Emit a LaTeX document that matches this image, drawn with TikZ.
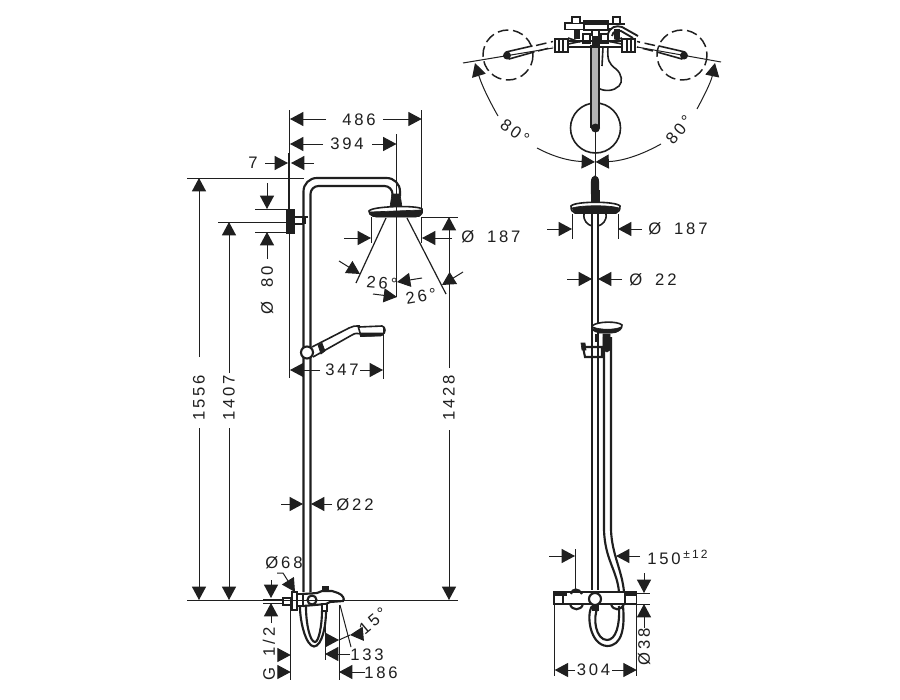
\documentclass[tikz,border=0pt]{standalone}
\usepackage{fontspec}
\setmainfont{Liberation Sans}[LetterSpace=17]
\usetikzlibrary{arrows.meta}
\tikzset{
  x=0.75pt,y=-0.75pt,
  ink/.style={color=black!88},
  thin line/.style={ink,line width=0.75pt},
  pipe/.style={ink,line width=1.6pt},
  thick part/.style={ink,line width=1.2pt},
  tip/.style={thin line,-{Triangle[length=10pt,width=10.5pt]}},
  lbl/.style={ink,font=\fontsize{12.5pt}{14pt}\selectfont,inner sep=0pt},
  blk/.style={fill=black!88,draw=black!88,line width=0.5pt},
  dash part/.style={ink,line width=1.1pt,dash pattern=on 8pt off 3.5pt}
}
\begin{document}
\begin{tikzpicture}
\useasboundingbox[fill=white] (0,0) rectangle (900,700);
% ---- side view: pipes
\draw[pipe,rounded corners=10pt] (303.5,592) -- (303.5,178) -- (400,178) -- (400,196);
\draw[pipe,rounded corners=6pt] (310.5,592) -- (310.5,186) -- (392.5,186) -- (392.5,196);
\draw[blk] (392,194) -- (400,194) -- (402,207) -- (390,207) -- cycle;
\draw[thick part,fill=white] (369,211) .. controls (372,206) and (418,205) .. (422,209) .. controls (423,212) and (422,214) .. (419,216) -- (373,216) .. controls (370,215) and (369,213) .. (369,211) -- cycle;
\draw[blk] (370,212) -- (421,210) .. controls (422,214) and (420,216) .. (416,217) -- (376,217) .. controls (372,216) and (370,214) .. (370,212) -- cycle;
% wall bracket
\draw[blk] (286,209) rectangle (294.5,233);
\draw[thick part] (295,217) -- (308,217) (295,224) -- (304,224);
\fill[black!88] (302,217) rectangle (306,224);
% hand shower side
\draw[pipe,fill=white] (307,352.5) circle[radius=6];
\draw[thick part] (312,347) -- (349,328) .. controls (352,326) and (355,326) .. (360,326);
\draw[thick part] (313,357) -- (352,335) .. controls (355,333) and (358,333) .. (361,334);
\draw[blk] (318,345) -- (322,343) -- (325,351) -- (321,354) -- cycle;
\draw[thick part] (359,327) -- (382,326) .. controls (386,327) and (386,333) .. (382,335) -- (360,336);
\draw[blk] (361,333) -- (384,333) -- (381,336) -- (361,336.5) -- cycle;
\draw[thick part] (358,326) -- (361,336);
% side mixer
\draw[thick part,fill=white] (283,598) rectangle (291,605);
\draw[pipe,fill=white] (292,592) rectangle (297,610);
\draw[thick part] (297,594) -- (303,594) -- (303,606) -- (297,606);
\draw[pipe] (303,594) -- (317,593) -- (322,591) -- (332,591) -- (338,593) .. controls (343,595) and (345,599) .. (343,601) -- (330,602) -- (326,604) -- (303,606);
\draw[pipe,fill=white] (312,600) circle[radius=4.5];
\draw[blk] (322,586) rectangle (328,591);
\draw[thick part,fill=white] (322,604) rectangle (327,611);
\draw[pipe] (300,607) .. controls (300,622) and (306,646) .. (314,646.5) .. controls (322,646) and (326,626) .. (326,611);
\draw[pipe] (306,607) .. controls (306,624) and (310,642) .. (315,642) .. controls (319,642) and (322,624) .. (322,611);
% ---- side view dimension lines
\draw[thin line] (289.7,110) -- (289.7,378);
\draw[thin line] (288,153) -- (288,209);
\draw[thin line] (421.7,110) -- (421.7,212);
\draw[thin line] (396.5,134) -- (396.5,297);
\draw[thin line] (187,178) -- (304,178);
\draw[thin line] (255,209) -- (286,209) (255,232) -- (286,232) (218,222) -- (286,222);
\draw[thin line] (422,217) -- (458,217);
\draw[thin line] (187,600) -- (458,600);
\draw[thin line] (290.7,600) -- (290.7,680);
\draw[tip] (326,119) -- (290,119); \draw[tip] (383,119) -- (421.7,119);
\node[lbl] (t486) at (359,120) {486};
\draw[tip] (323,144) -- (290,144); \draw[tip] (372,144) -- (396.5,144);
\node[lbl] (t394) at (347,144) {394};
\node[lbl] (t7) at (253,163) {7};
\draw[tip] (265,163) -- (288,163); \draw[tip] (314,163) -- (291,163);
\draw[tip] (267,183) -- (267,209); \draw[tip] (267,259) -- (267,232);
\node[lbl,rotate=90] (t80) at (267,290) {Ø\hspace{5pt} 80};
\draw[tip] (199,357) -- (199,178); \draw[tip] (199,428) -- (199,600);
\node[lbl,rotate=90] (t1556) at (199,398) {1556};
\draw[tip] (229,373) -- (229,222); \draw[tip] (229,428) -- (229,600);
\node[lbl,rotate=90] (t1407) at (229,398) {1407};
\draw[tip] (449,368) -- (449,217); \draw[tip] (449,430) -- (449,600);
\node[lbl,rotate=90] (t1428) at (449,398) {1428};
% shower head cones
\draw[thin line] (371,217) -- (371,243) (421.7,217) -- (421.7,243);
\draw[thin line,line width=0.9pt] (386,218) -- (356,283) (407,218) -- (446,294);
\draw[tip] (344,238) -- (371,238); \draw[tip] (452,238) -- (422,238);
\node[lbl,anchor=west] (t187a) at (461,237) {Ø\hspace{4pt} 187};
\draw[tip] (339,261) -- (360,274); \draw[tip] (463,272) -- (442,285);
\draw[tip] (422,278) -- (397,282); \draw[tip] (373,294) -- (397,297);
\node[lbl,rotate=-5] (t26a) at (382,283) {26°};
\node[lbl,rotate=10] (t26b) at (421,296) {26°};
% 347
\draw[thin line] (383,328) -- (383,379);
\draw[tip] (320,370) -- (290,370); \draw[tip] (360,370) -- (383,370);
\node[lbl] (t347) at (342,370) {347};
% 22
\draw[tip] (281,504) -- (303,504); \draw[tip] (332,504) -- (311,504);
\node[lbl] (t22a) at (355,505) {Ø22};
% Ø68
\node[lbl] (t68) at (284,563) {Ø68};
\draw[tip] (277,573) -- (283,573) -- (295,592);
% G 1/2
\draw[thin line] (263,599) -- (283,599) (263,603) -- (283,603);
\draw[tip] (271,580) -- (271,598); \draw[tip] (271,623) -- (271,603);
\node[lbl,rotate=90] (tg) at (269,654) {G\hspace{3pt} 1/2};
\draw[tip] (278,655) -- (290.7,655); \draw[tip] (278,672) -- (290.7,672);
% 133 / 186 / 15
\draw[thin line] (325,611) -- (325,660);
\draw[thin line] (339,605) -- (339,680);
\draw[thin line] (340,605) -- (351,647);
\draw[tip] (327,640) -- (339,640);
\draw[tip] (361,634) -- (350,635);
\draw[thin line] (339,640) -- (350,635);
\node[lbl,rotate=40] (t15) at (373,621) {15°};
\draw[tip] (350,654) -- (325,654);
\node[lbl] (t133) at (367,655) {133};
\draw[tip] (365,672) -- (339,672);
\node[lbl] (t186) at (381,673) {186};
% ---- top view
\draw[thick part] (595.5,128) circle[radius=25];
\draw[dash part] (508,55) circle[radius=25];
\draw[dash part] (682,55) circle[radius=25];
\draw[thick part] (608,47) .. controls (607,60) and (609,64) .. (616,69) .. controls (622,74) and (623,82) .. (619,86) .. controls (614,91) and (605,92) .. (598,88);
\draw[thick part] (603,47) -- (602,66);
\fill[black!30] (591,45) rectangle (599,128);
\draw[thick part] (591,45) -- (591,128) (599,45) -- (599,128);
\fill[black!88] (595.5,128) circle[radius=4.5];
\draw[thin line] (595.5,128) -- (595.5,178);
% rods
\draw[thick part,line cap=round] (506,52) -- (532,46) (509,59) -- (534,52);
\fill[black!88] (507,55.5) circle[radius=4];
\draw[dash part] (536,45.5) -- (553,41.5) (538,51) -- (553,47);
\draw[thick part,line cap=round] (685,52) -- (659,46) (682,59) -- (657,52);
\fill[black!88] (684,55.5) circle[radius=4];
\draw[dash part] (655,45.5) -- (637,41.5) (653,51) -- (637,47);
\draw[thin line] (463,63) -- (553,48);
\draw[thin line] (721,62) -- (637,47);
% mixer top
\draw[pipe] (555,39) rectangle (568,52);
\draw[pipe] (622,39) rectangle (635,52);
\draw[thick part] (568,41) -- (622,41) (568,47) -- (622,47);
\draw[thick part] (568,38) -- (580,42) (568,44) -- (583,41) (622,38) -- (610,42) (622,44) -- (607,41);
\draw[thick part] (559,38) -- (559,53) (563,38) -- (563,53) (627,38) -- (627,53) (631,38) -- (631,53);
\draw[pipe] (583,34) rectangle (590,43);
\draw[pipe] (601,34) rectangle (608,43);
\draw[blk] (574,29) rectangle (579,38) (614,29) rectangle (619,38);
\draw[blk] (592,36) rectangle (599,46);
\draw[thick part,fill=white] (565,23) rectangle (584,29.5);
\draw[thick part,fill=white] (572,23) -- (572,17) -- (580,17) -- (580,23);
\draw[thick part,fill=white] (613,23) -- (613,17) -- (620,17) -- (620,23);
\draw[thick part,fill=white] (584,21) rectangle (608,30);
\fill[black!88] (584,21) rectangle (608,24.5);
\draw[thick part] (608,24) -- (625,24) (608,29) -- (612,29);
\draw[ink,line width=1.4pt] (608,34) .. controls (610,27) and (616,25) .. (622,27) -- (638,36);
\draw[ink,line width=1.4pt] (612,36) .. controls (613,31) and (617,30) .. (621,31) -- (633,38);
\draw[thick part] (592,30) -- (592,36) (599,30) -- (599,36);
% 80 degree dims
\draw[tip] (498,116) .. controls (490,102) and (482,86) .. (475,63);
\node[lbl,rotate=-35] (t80a) at (515,132) {80°};
\draw[tip] (537,148) .. controls (552,156) and (568,161) .. (595,162);
\draw[tip] (661,144) .. controls (645,153) and (625,161) .. (595.5,162);
\node[lbl,rotate=50] (t80b) at (679,130) {80°};
\draw[tip] (697,109) .. controls (704,96) and (711,82) .. (715,63);
% ---- front view
\draw[pipe,line cap=round,fill=black!88] (592,194) -- (592,182) .. controls (592,175) and (598,175) .. (598,182) -- (598,194);
\draw[blk] (591,190) rectangle (599,204);
\draw[thick part,fill=white] (571,206) .. controls (575,201) and (616,201) .. (620,206) .. controls (620,210) and (619,212) .. (616,213) -- (575,213) .. controls (572,212) and (571,210) .. (571,206) -- cycle;
\draw[blk] (572,208) .. controls (582,205) and (610,205) .. (619,208) .. controls (618,212) and (616,213) .. (612,213.5) -- (579,213.5) .. controls (575,213) and (573,211) .. (572,208) -- cycle;
\draw[thick part] (584,214) .. controls (583,221) and (588,225) .. (592,226) (606,214) .. controls (607,221) and (602,225) .. (598,226);
\draw[pipe] (592,214) -- (592,590) (598,214) -- (598,590);
% hose front
\draw[pipe] (604,337) -- (604,530) .. controls (605,560) and (617,570) .. (619,592);
\draw[pipe] (611,337) -- (611,530) .. controls (612,555) and (622,570) .. (624,592);
\draw[thick part,fill=white] (592,326) .. controls (597,321) and (618,321) .. (622,325) .. controls (622,329) and (619,331) .. (615,332) -- (599,332) .. controls (595,332) and (592,330) .. (592,326) -- cycle;
\draw[blk] (593,327) .. controls (600,330) and (615,330) .. (621,327) .. controls (620,331) and (616,333) .. (612,333) -- (599,333) .. controls (596,332) and (594,330) .. (593,327) -- cycle;
\draw[pipe,fill=white] (583,347) -- (602,347) -- (602,357) -- (585,357) -- cycle;
\draw[blk] (581,343) -- (585,343) -- (586,350) -- (582,350) -- cycle;
\draw[pipe] (592,347) -- (592,357) (598,347) -- (598,357);
\draw[blk] (603,334) -- (610,334) -- (610,350) -- (607,352) -- (603,350) -- cycle;
\draw[thick part] (596,334) -- (596,342);
% front mixer
\draw[pipe,fill=white] (571,594) .. controls (572,588) and (579,588) .. (582,594);
\draw[pipe] (570,604) .. controls (572,611) and (581,611) .. (583,604);
\draw[pipe] (611,604) .. controls (613,611) and (621,611) .. (624,604);
\draw[thick part] (554,592) rectangle (636.5,604);
\draw[thick part,fill=white] (554,594) rectangle (563,604);
\draw[thick part,fill=white] (625,594) rectangle (636.5,604);
\draw[blk] (554,592) rectangle (566,595) (625,592) rectangle (636.5,595);
\draw[pipe,fill=white] (595,599) circle[radius=6];
\draw[pipe] (592,606) .. controls (586,615) and (590,645) .. (607,646) .. controls (622,646) and (625,628) .. (623,606);
\draw[pipe] (598,607) .. controls (592,618) and (596,640) .. (607,640) .. controls (616,640) and (620,625) .. (619,606);
\draw[blk] (592,604) rectangle (598,610);
% front dims
\draw[thin line] (572,214) -- (572,239) (618,214) -- (618,239);
\draw[tip] (547,229) -- (572,229); \draw[tip] (642,229) -- (618,229);
\node[lbl] (t187b) at (678,229) {Ø\hspace{4pt} 187};
\draw[tip] (567,279) -- (592,279); \draw[tip] (622,279) -- (598,279);
\node[lbl] (t22b) at (653,280) {Ø\hspace{4pt} 22};
\draw[thin line] (575,549) -- (575,592);
\draw[tip] (549,556) -- (575,556); \draw[tip] (640,556) -- (616,556);
\node[lbl,anchor=west] (t150) at (647,557) {150\hspace{2pt}\raisebox{4.5pt}{\fontsize{9pt}{9pt}\selectfont ±12}};
\draw[thin line] (637,593) -- (650,593) (637,604) -- (650,604);
\draw[tip] (644,573) -- (644,593); \draw[tip] (644,628) -- (644,604);
\node[lbl,rotate=90] (t38) at (644,647) {Ø38};
\draw[thin line] (554.7,604) -- (554.7,676) (636.7,604) -- (636.7,676);
\draw[tip] (575,670) -- (554.7,670); \draw[tip] (612,670) -- (636.7,670);
\node[lbl] (t304) at (593.5,670) {304};
\end{tikzpicture}
\end{document}
